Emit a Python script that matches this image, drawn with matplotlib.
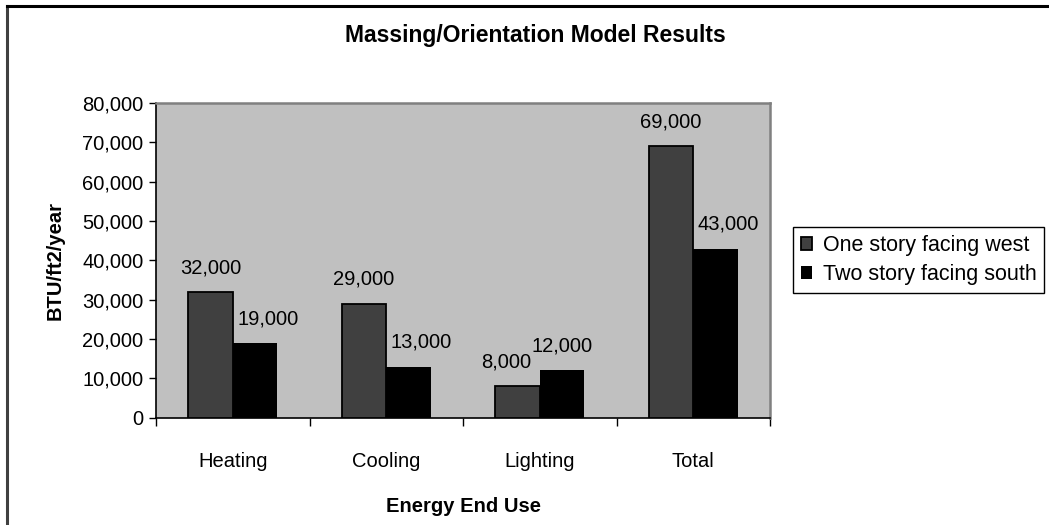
import numpy as np
import matplotlib.pyplot as plt
from matplotlib.lines import Line2D
from matplotlib.ticker import FuncFormatter, FixedLocator

plt.rcParams['font.family'] = ['Liberation Sans', 'DejaVu Sans']

# Energy end uses and model results (BTU/ft2/year)
categorias = ['Heating', 'Cooling', 'Lighting', 'Total']
una_planta_oeste = [32000, 29000, 8000, 69000]
dos_plantas_sur = [19000, 13000, 12000, 43000]
series = ['One story facing west', 'Two story facing south']

W, H = 1049, 525
fig = plt.figure(figsize=(W / 100, H / 100), dpi=100)
ax = fig.add_axes([156 / W, 1 - 417.7 / H, (770 - 156) / W, (417.7 - 103) / H])
ax.set_facecolor('#c0c0c0')

x = np.arange(len(categorias))
ancho = 0.29

b1 = ax.bar(x - ancho / 2, una_planta_oeste, ancho, color='#404040',
            edgecolor='black', linewidth=1.3, label=series[0], zorder=3)
b2 = ax.bar(x + ancho / 2, dos_plantas_sur, ancho, color='black',
            linewidth=0, label=series[1], zorder=3)

# desplazamiento horizontal de las etiquetas (px)
dx1 = [0, 0, -11, 0]
dx2 = [13, 13, 0, 13]
fmt = lambda v: f'{v:,.0f}'
for i in range(len(categorias)):
    ax.annotate(fmt(una_planta_oeste[i]), (x[i] - ancho / 2, una_planta_oeste[i]),
                xytext=(dx1[i] * 0.72, 17.5), textcoords='offset points',
                ha='center', va='center', fontsize=14.5, zorder=4)
    ax.annotate(fmt(dos_plantas_sur[i]), (x[i] + ancho / 2, dos_plantas_sur[i]),
                xytext=(dx2[i] * 0.72, 17.5), textcoords='offset points',
                ha='center', va='center', fontsize=14.5, zorder=4)

ax.set_xlim(-0.5, len(categorias) - 0.5)
ax.set_ylim(0, 80000)
ax.set_yticks(np.arange(0, 80001, 10000))
ax.yaxis.set_major_formatter(FuncFormatter(lambda v, p: fmt(v)))
ax.tick_params(axis='y', direction='out', length=5, width=1, labelsize=14.5, pad=4)

ax.set_xticks(x)
ax.set_xticklabels(categorias)
ax.xaxis.set_minor_locator(FixedLocator(np.arange(-0.5, len(categorias), 1.0)))
ax.tick_params(axis='x', which='major', length=0, labelsize=14.5, pad=24.5)
ax.tick_params(axis='x', which='minor', direction='out', length=6, width=1)

for lado in ['left', 'bottom']:
    ax.spines[lado].set_color('black')
    ax.spines[lado].set_linewidth(1.2)
for lado in ['top', 'right']:
    ax.spines[lado].set_color('#808080')
    ax.spines[lado].set_linewidth(1.8)

ax.set_xlabel('Energy End Use', fontsize=14.5, fontweight='bold', labelpad=19)
ax.set_ylabel('BTU/ft2/year', fontsize=14.5, fontweight='bold', labelpad=13)

fig.text(535 / W, 1 - 35.5 / H, 'Massing/Orientation Model Results',
         ha='center', va='center', fontsize=16.5, fontweight='bold')

leg = fig.legend(handles=[b1, b2], loc='center left',
                 bbox_to_anchor=(793 / W, 1 - 260 / H), borderaxespad=0,
                 fontsize=15.5, frameon=True, fancybox=False, framealpha=1,
                 edgecolor='black', handlelength=0.55, handleheight=0.55,
                 handletextpad=0.5, labelspacing=0.4, borderpad=0.35)
leg.get_frame().set_linewidth(1.0)

# marco exterior
fig.add_artist(Line2D([7 / W, 7 / W], [0, 1 - 6 / H], color='#404040', lw=2.2))
fig.add_artist(Line2D([7 / W, 1], [1 - 6 / H, 1 - 6 / H], color='black', lw=2.2))

fig.savefig('out.png', dpi=100)
